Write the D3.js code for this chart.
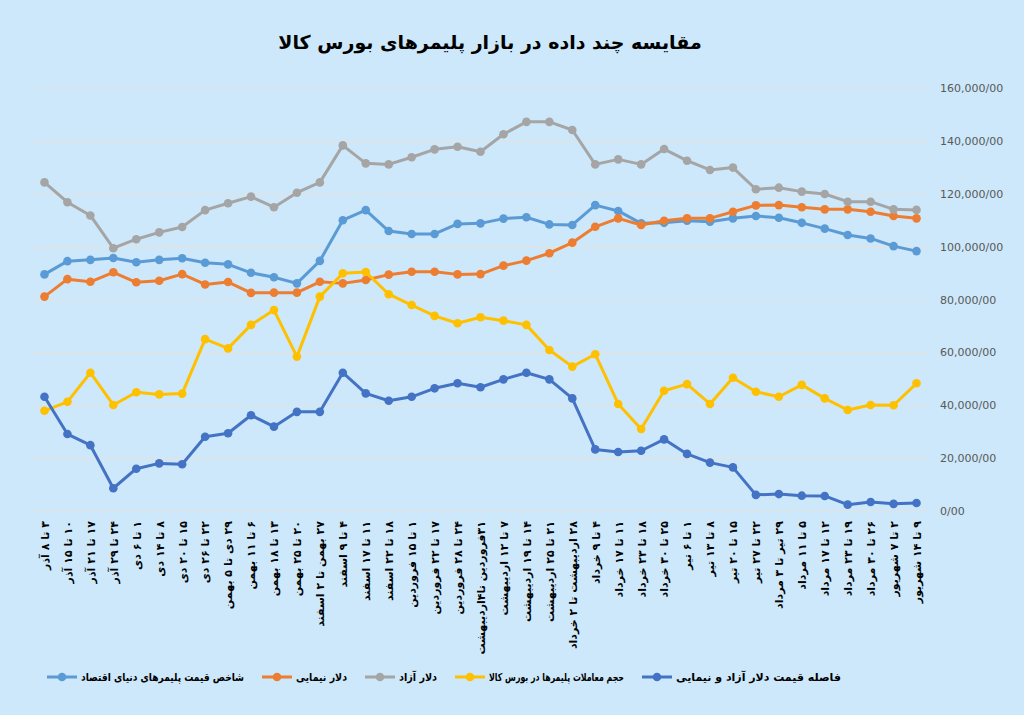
<!DOCTYPE html>
<html>
<head>
<meta charset="utf-8">
<script src="https://cdn.jsdelivr.net/npm/d3@7"></script>
<style>
  html, body { margin: 0; padding: 0; background: #cce8fa; }
  svg { display: block; font-family: "DejaVu Sans", sans-serif; }
</style>
</head>
<body>
<div id="chart"></div>
<script>
// weekly periods (x axis)
var weeks = ["۳ تا ۸ آذر", "۱۰ تا ۱۵ آذر", "۱۷ تا ۲۱ آذر", "۲۴ تا ۲۹ آذر", "۱ تا ۶ دی", "۸ تا ۱۴ دی",
  "۱۵ تا ۲۰ دی", "۲۲ تا ۲۶ دی", "۲۹ دی تا ۵ بهمن", "۶ تا ۱۱ بهمن", "۱۳ تا ۱۸ بهمن", "۲۰ تا ۲۵ بهمن",
  "۲۷ بهمن تا ۲ اسفند", "۴ تا ۹ اسفند", "۱۱ تا ۱۷ اسفند", "۱۸ تا ۲۲ اسفند", "۱ تا ۱۵ فروردین",
  "۱۷ تا ۲۲ فروردین", "۲۴ تا ۲۸ فروردین", "۳۱فروردین تا۴اردیبهشت", "۷ تا ۱۲ اردیبهشت",
  "۱۴ تا ۱۹ اردیبهشت", "۲۱ تا ۲۵ اردیبهشت", "۲۸ اردیبهشت تا ۲ خرداد", "۴ تا ۹ خرداد",
  "۱۱ تا ۱۷ خرداد", "۱۸ تا ۲۳ خرداد", "۲۵ تا ۳۰ خرداد", "۱ تا ۶ تیر", "۸ تا ۱۳ تیر", "۱۵ تا ۲۰ تیر",
  "۲۲ تا ۲۷ تیر", "۲۹ تیر تا ۳ مرداد", "۵ تا ۱۱ مرداد", "۱۲ تا ۱۷ مرداد", "۱۹ تا ۲۳ مرداد",
  "۲۶ تا ۳۰ مرداد", "۲ تا ۷ شهریور", "۹ تا ۱۴ شهریور"];

var polymerIndex = [89500, 94500, 95000, 95700, 94100, 95000, 95600, 93900, 93300, 90100, 88400, 86100, 94600,
  110000, 113800, 105900, 104800, 104800, 108600, 108800, 110600, 111100, 108400, 108200, 115700, 113500,
  108800, 109000, 109800, 109400, 110700, 111600, 110900, 109000, 106800, 104400, 103100, 100200, 98300];

var nimaDollar = [81100, 87700, 86700, 90300, 86500, 87100, 89600, 85700, 86600, 82500, 82600, 82600, 86700,
  86100, 87400, 89400, 90500, 90500, 89500, 89600, 92800, 94700, 97500, 101500, 107500, 110700,
  108200, 109800, 110700, 110700, 113200, 115600, 115700, 114900, 114100, 114100, 113200, 111600, 110700];

var freeDollar = [124300, 116800, 111800, 99400, 102800, 105400, 107400, 113800, 116400, 118900, 114900, 120400, 124300,
  138300, 131500, 131100, 133800, 136800, 137800, 135900, 142500, 147200, 147200, 144100, 131100, 133000,
  131100, 136900, 132500, 129000, 129900, 121700, 122300, 120800, 119900, 117000, 117000, 114100, 113900];

var tradeVolume = [37900, 41300, 52300, 40100, 44900, 44100, 44400, 65000, 61500, 70400, 76000, 58400, 81100,
  89900, 90400, 82000, 77900, 73800, 71000, 73300, 72000, 70400, 60900, 54600, 59300, 40500,
  31000, 45500, 48000, 40500, 50400, 45100, 43200, 47700, 42600, 38200, 40100, 40000, 48300];

var dollarGap = [43200, 29100, 24900, 8600, 16000, 18000, 17700, 28100, 29400, 36200, 31900, 37500, 37500,
  52300, 44500, 41700, 43200, 46400, 48300, 46800, 49800, 52300, 49800, 42600, 23300, 22300,
  22800, 27100, 21600, 18300, 16500, 6100, 6400, 5800, 5700, 2400, 3400, 2700, 3000];

var yTicks = [0, 20000, 40000, 60000, 80000, 100000, 120000, 140000, 160000];

var seriesNames = ["شاخص قیمت پلیمرهای دنیای اقتصاد", "دلار نیمایی", "دلار آزاد",
  "حجم معاملات پلیمرها در بورس کالا", "فاصله قیمت دلار آزاد و نیمایی"];
var seriesColors = ["#5b9bd5", "#ed7d31", "#a5a5a5", "#ffc000", "#4472c4"];

var series = [polymerIndex, nimaDollar, freeDollar, tradeVolume, dollarGap].map((vals, i) => ({
  name: seriesNames[i], color: seriesColors[i], values: vals
}));

var width = 1024, height = 715;
var plot = {left: 33, right: 928, top: 88, bottom: 511};

var svg = d3.select("#chart").append("svg")
  .attr("width", width)
  .attr("height", height);

svg.append("rect")
  .attr("width", width)
  .attr("height", height)
  .attr("fill", "#cce8fa");

var xScale = d3.scalePoint()
  .domain(weeks)
  .range([plot.left, plot.right])
  .padding(0.5);

var yScale = d3.scaleLinear()
  .domain([0, 160000])
  .range([plot.bottom, plot.top]);

// title
svg.append("text")
  .attr("x", 490)
  .attr("y", 49)
  .attr("text-anchor", "middle")
  .attr("direction", "rtl")
  .attr("font-size", 19)
  .attr("font-weight", "bold")
  .attr("fill", "#000")
  .text("مقایسه چند داده در بازار پلیمرهای بورس کالا");

// gridlines + right axis labels
var yAxis = d3.axisRight(yScale)
  .tickValues(yTicks)
  .tickSize(-(plot.right - plot.left))
  .tickFormat(d => d3.format(",")(d) + "/00");

var yG = svg.append("g")
  .attr("class", "y axis")
  .attr("transform", `translate(${plot.right},0)`)
  .call(yAxis);
yG.select(".domain").remove();
yG.selectAll(".tick line").attr("stroke", "#e4e2df").attr("stroke-width", 1.2);
yG.selectAll(".tick text")
  .attr("x", 12)
  .attr("font-size", 11)
  .attr("fill", "#595959")
  .attr("font-family", "'DejaVu Sans', sans-serif");

// x labels, rotated
var xAxis = d3.axisBottom(xScale).tickSize(0);
var xG = svg.append("g")
  .attr("class", "x axis")
  .attr("transform", `translate(0,${plot.bottom})`)
  .call(xAxis);
xG.select(".domain").remove();
xG.selectAll(".tick text")
  .attr("transform", "rotate(-90)")
  .attr("x", -10)
  .attr("y", 0)
  .attr("dy", "0.35em")
  .attr("direction", "rtl")
  .attr("text-anchor", "start")
  .attr("font-size", 11)
  .attr("font-weight", "bold")
  .attr("fill", "#000")
  .attr("font-family", "'DejaVu Sans', sans-serif");

var line = d3.line()
  .x((d, i) => xScale(weeks[i]))
  .y(d => yScale(d));

var lines = svg.append("g").attr("class", "lines");

series.forEach(s => {
  var g = lines.append("g");
  g.append("path")
    .datum(s.values)
    .attr("fill", "none")
    .attr("stroke", s.color)
    .attr("stroke-width", 3)
    .attr("stroke-linejoin", "round")
    .attr("d", line);
  g.selectAll("circle")
    .data(s.values)
    .enter()
    .append("circle")
    .attr("cx", (d, i) => xScale(weeks[i]))
    .attr("cy", d => yScale(d))
    .attr("r", 4.3)
    .attr("fill", s.color);
});

// legend - marker then label, same slots as the original
var legendX = [47, 262, 365, 455, 642, 1000];
var legend = svg.append("g")
  .attr("class", "legend")
  .attr("transform", "translate(0,677)");

series.forEach((s, i) => {
  var item = legend.append("g").attr("transform", `translate(${legendX[i]},0)`);
  item.append("line")
    .attr("x1", 0).attr("x2", 30)
    .attr("stroke", s.color)
    .attr("stroke-width", 3);
  item.append("circle")
    .attr("cx", 15)
    .attr("r", 4.3)
    .attr("fill", s.color);
  var t = item.append("text")
    .attr("x", 34)
    .attr("dy", "0.35em")
    .attr("direction", "rtl")
    .attr("text-anchor", "end")
    .attr("font-size", 11)
    .attr("font-weight", "bold")
    .attr("fill", "#000")
    .text(s.name);
  // squeeze a label if it would run into the next marker
  var room = legendX[i + 1] - legendX[i] - 34 - 18;
  var w = t.node().getBBox().width;
  if (w > room) {
    t.attr("textLength", room).attr("lengthAdjust", "spacingAndGlyphs");
  }
});
</script>
</body>
</html>
